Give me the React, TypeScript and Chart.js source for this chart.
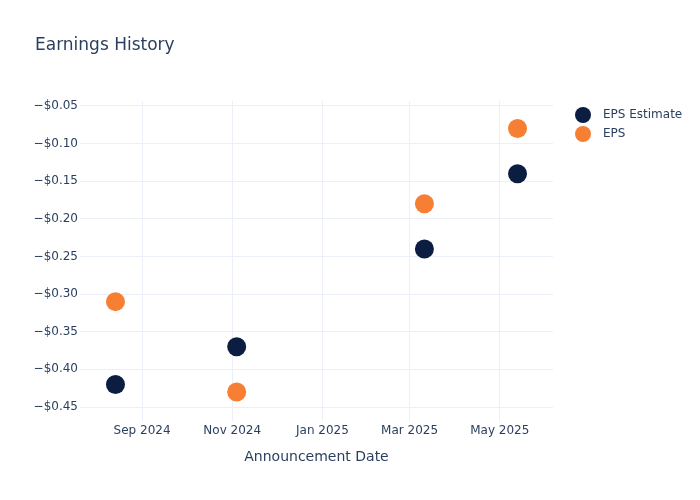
import React, { useEffect, useRef } from "react";
import { Chart, registerables } from "chart.js";

Chart.register(...registerables);

const announcementDates = ["2024-08-14", "2024-11-04", "2025-03-11", "2025-05-13"];
const epsEstimate = [-0.42, -0.37, -0.24, -0.14];
const epsActual = [-0.31, -0.43, -0.18, -0.08];
const seriesNames = ["EPS Estimate", "EPS"];
const seriesColors = ["#0b1d40", "#f67f33"];
const xTickDates = ["2024-09-01", "2024-11-01", "2025-01-01", "2025-03-01", "2025-05-01"];
const xTickLabels = ["Sep 2024", "Nov 2024", "Jan 2025", "Mar 2025", "May 2025"];
const yTickValues = [-0.45, -0.4, -0.35, -0.3, -0.25, -0.2, -0.15, -0.1, -0.05];
const xRange = ["2024-07-21", "2025-06-06"];
const yRange = [-0.4686, -0.0434];
const chartTitle = "Earnings History";
const xAxisTitle = "Announcement Date";

const toDay = (s: string) => Date.parse(s + "T00:00:00Z") / 86400000;

const FONT = "'DejaVu Sans', sans-serif";
const TEXT = "#2a3f5f";
const GRID = "#ebf0f8";

export default function App() {
  const ref = useRef<HTMLCanvasElement | null>(null);
  useEffect(() => {
    if (!ref.current) return;
    const tickDays = xTickDates.map(toDay);
    const overlay = {
      id: "overlay",
      afterDraw(chart: any) {
        const ctx = chart.ctx;
        const area = chart.chartArea;
        ctx.save();
        ctx.fillStyle = TEXT;
        ctx.font = `17px ${FONT}`;
        ctx.textBaseline = "middle";
        ctx.textAlign = "left";
        ctx.fillText(chartTitle, 35, 44.5);
        ctx.font = `12px ${FONT}`;
        seriesNames.forEach((name, i) => {
          const y = area.top + 14 + i * 19;
          ctx.beginPath();
          ctx.fillStyle = seriesColors[i];
          ctx.arc(area.right + 30, y, 8, 0, Math.PI * 2);
          ctx.fill();
          ctx.fillStyle = TEXT;
          ctx.fillText(name, area.right + 50, y);
        });
        ctx.restore();
      },
    };
    const chart = new Chart(ref.current, {
      type: "scatter",
      data: {
        datasets: [
          {
            label: seriesNames[0],
            data: announcementDates.map((d, i) => ({ x: toDay(d), y: epsEstimate[i] })),
            backgroundColor: seriesColors[0],
            borderColor: seriesColors[0],
            pointRadius: 9.5,
            borderWidth: 0,
          },
          {
            label: seriesNames[1],
            data: announcementDates.map((d, i) => ({ x: toDay(d), y: epsActual[i] })),
            backgroundColor: seriesColors[1],
            borderColor: seriesColors[1],
            pointRadius: 9.5,
            borderWidth: 0,
          },
        ],
      },
      options: {
        animation: false,
        responsive: false,
        maintainAspectRatio: false,
        layout: { padding: { top: 100, right: 147, left: 0, bottom: 0 } },
        plugins: {
          legend: { display: false },
          tooltip: { enabled: false },
          title: { display: false },
        },
        scales: {
          x: {
            type: "linear",
            min: toDay(xRange[0]),
            max: toDay(xRange[1]),
            afterFit: (s: any) => {
              s.height = 80;
            },
            afterBuildTicks: (s: any) => {
              s.ticks = tickDays.map((v) => ({ value: v }));
            },
            border: { display: false },
            grid: { color: GRID, lineWidth: 1, drawTicks: false },
            ticks: {
              autoSkip: false,
              maxRotation: 0,
              padding: 3,
              color: TEXT,
              font: { family: FONT, size: 12 },
              callback: (v: any) => {
                const idx = tickDays.indexOf(Number(v));
                return idx >= 0 ? xTickLabels[idx] : "";
              },
            },
            title: {
              display: true,
              text: xAxisTitle,
              color: TEXT,
              font: { family: FONT, size: 14 },
              padding: { top: 0, bottom: 35.5 },
            },
          },
          y: {
            type: "linear",
            min: yRange[0],
            max: yRange[1],
            afterFit: (s: any) => {
              s.width = 80;
            },
            afterBuildTicks: (s: any) => {
              s.ticks = yTickValues.map((v) => ({ value: v }));
            },
            border: { display: false },
            grid: { color: GRID, lineWidth: 1, drawTicks: false },
            ticks: {
              padding: 2,
              color: TEXT,
              font: { family: FONT, size: 12 },
              callback: (v: any) => {
                const n = Number(v);
                const s = "$" + Math.abs(n).toFixed(2);
                return n < 0 ? "\u2212" + s : s;
              },
            },
          },
        },
      },
      plugins: [overlay],
    });
    return () => chart.destroy();
  }, []);
  return (
    <div style={{ position: "absolute", left: 0, top: 1, width: 700, height: 500, background: "#fff" }}>
      <canvas ref={ref} width={700} height={500} style={{ width: 700, height: 500, display: "block" }} />
    </div>
  );
}
